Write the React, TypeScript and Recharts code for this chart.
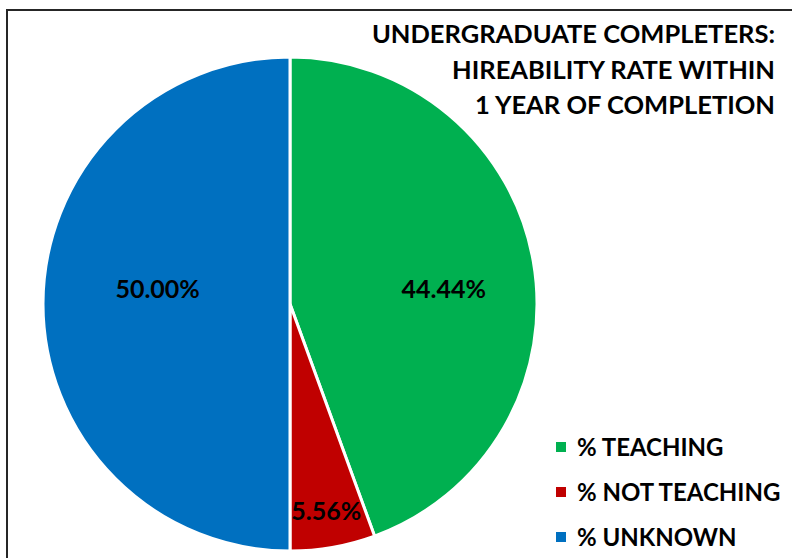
import { PieChart, Pie, Cell } from "recharts";

const categories = ["% TEACHING", "% NOT TEACHING", "% UNKNOWN"];
const shares = [44.44, 5.56, 50.0];
const colors = ["#00B050", "#C00000", "#0070C0"];
const titleLines = [
  "UNDERGRADUATE COMPLETERS:",
  "HIREABILITY RATE WITHIN",
  "1 YEAR OF COMPLETION",
];

const data = categories.map((name, i) => ({ name, value: shares[i] }));

const FONT = "Lato, 'Open Sans', sans-serif";

// label placement, tuned to match the original (fraction of radius, vertical nudge)
const labelRadius = [0.632, 0.846, 0.536];
const labelLift = [-11, 0, 16];

// eslint-disable-next-line @typescript-eslint/no-explicit-any
function renderLabel({ cx, cy, midAngle, outerRadius, index, value }: any) {
  const rad = (Math.PI / 180) * midAngle;
  const r = outerRadius * labelRadius[index];
  const x = cx + r * Math.cos(rad);
  const y = cy - r * Math.sin(rad) - labelLift[index];
  return (
    <text
      x={x}
      y={y}
      textAnchor="middle"
      dominantBaseline="central"
      fill="#000"
      fontFamily={FONT}
      fontWeight={700}
      fontSize={25}
    >
      {value.toFixed(2)}%
    </text>
  );
}

function ChartLegend() {
  return (
    <div style={{ position: "absolute", left: 556, top: 424, zIndex: 2 }}>
      {categories.map((name, i) => (
        <div key={name} style={{ display: "flex", alignItems: "center", height: 45 }}>
          <span
            style={{
              width: 10,
              height: 10,
              background: colors[i],
              marginRight: 11,
              display: "inline-block",
            }}
          />
          <span
            style={{
              fontFamily: FONT,
              fontWeight: 700,
              fontSize: 24,
              color: "#000",
              whiteSpace: "nowrap",
            }}
          >
            {name}
          </span>
        </div>
      ))}
    </div>
  );
}

export default function App() {
  return (
    <div
      style={{
        position: "absolute",
        left: 0,
        top: 0,
        width: 792,
        height: 558,
        overflow: "hidden",
        background: "#fff",
      }}
    >
      <div
        style={{
          position: "absolute",
          left: 6,
          top: 9,
          width: 820,
          height: 580,
          border: "2px solid #262626",
        }}
      />
      <PieChart
        width={792}
        height={558}
        margin={{ top: 0, right: 0, bottom: 0, left: 0 }}
        style={{ position: "absolute", left: 0, top: 0 }}
      >
        <Pie
          data={data}
          dataKey="value"
          nameKey="name"
          cx={290}
          cy={304}
          outerRadius={247}
          startAngle={90}
          endAngle={-270}
          stroke="#fff"
          strokeWidth={3}
          label={renderLabel}
          labelLine={false}
          isAnimationActive={false}
        >
          {data.map((d, i) => (
            <Cell key={d.name} fill={colors[i]} />
          ))}
        </Pie>
      </PieChart>
      <div
        style={{
          position: "absolute",
          right: 17,
          top: 16,
          zIndex: 2,
          textAlign: "right",
          fontFamily: FONT,
          fontWeight: 700,
          fontSize: 25.5,
          lineHeight: "35.5px",
          color: "#000",
        }}
      >
        {titleLines.map((t) => (
          <div key={t}>{t}</div>
        ))}
      </div>
      <ChartLegend />
    </div>
  );
}
